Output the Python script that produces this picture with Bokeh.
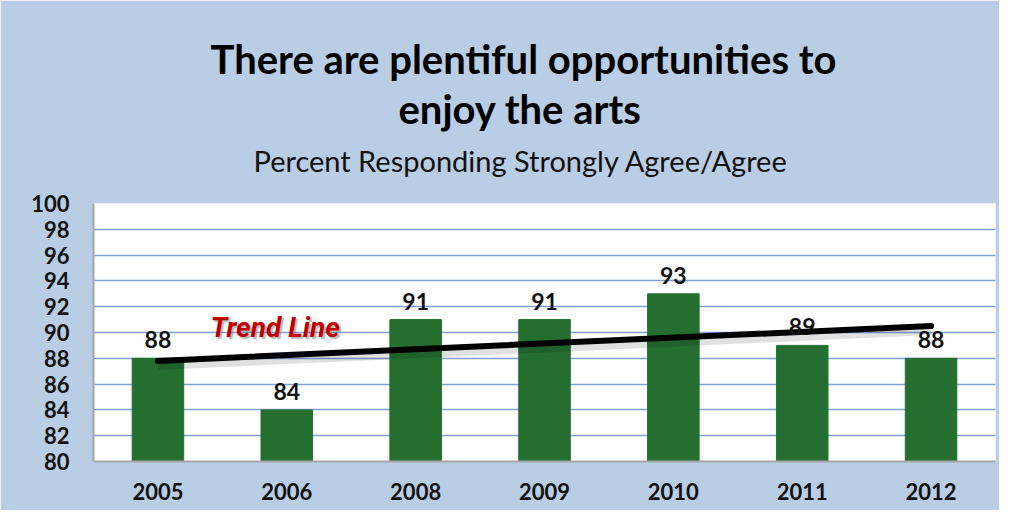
from bokeh.plotting import figure
from bokeh.models import ColumnDataSource, LabelSet, Label, FixedTicker, Title
from bokeh.core.properties import value
from bokeh.embed import file_html
from bokeh.resources import INLINE

years = ["2005", "2006", "2008", "2009", "2010", "2011", "2012"]
percent = [88, 84, 91, 91, 93, 89, 88]
y_ticks = [80, 82, 84, 86, 88, 90, 92, 94, 96, 98, 100]
trend_years = ["2005", "2012"]
trend_values = [87.8, 90.5]

title_1 = "There are plentiful opportunities to"
title_2 = "enjoy the  arts"
subtitle = "Percent Responding Strongly Agree/Agree"
trend_label = "Trend Line"

BG = "#B9CDE5"
GREEN = "#246F30"

p = figure(width=999, height=510, x_range=years, y_range=(80, 100),
           output_backend="svg", toolbar_location=None,
           min_border_left=93, min_border_right=4,
           min_border_top=203, min_border_bottom=49)
p.background_fill_color = "white"
p.border_fill_color = BG
p.outline_line_color = None

src = ColumnDataSource(dict(years=years, percent=percent,
                            labels=[str(v) for v in percent]))
p.vbar(x="years", top="percent", bottom=80, width=0.4, source=src,
       fill_color=GREEN, line_color=GREEN)

# trend line shadow + line
shadow_vals = [v - 0.35 for v in trend_values]
p.line(trend_years, shadow_vals, line_color="#000000", line_width=9,
       line_alpha=0.12)
p.line(trend_years, trend_values, line_color="black", line_width=6,
       line_cap="round")

p.add_layout(LabelSet(x="years", y="percent", text="labels", source=src,
                      y_offset=10, text_align="center",
                      text_baseline="alphabetic",
                      text_font=value("Lato"), text_font_style="bold",
                      text_font_size="23px", text_color="#111111"))

# grids / axes
p.xgrid.grid_line_color = None
p.ygrid.grid_line_color = "#7F9FD6"
p.ygrid.grid_line_width = 1.5
p.yaxis.ticker = FixedTicker(ticks=y_ticks)
for ax in (p.xaxis[0], p.yaxis[0]):
    ax.axis_line_color = "#A6A6A6"
    ax.axis_line_width = 2
    ax.major_tick_line_color = None
    ax.minor_tick_line_color = None
    ax.major_label_text_font = "Lato"
    ax.major_label_text_font_style = "bold"
    ax.major_label_text_color = "#111111"
p.yaxis.major_label_text_font_size = "22px"
p.yaxis.major_label_standoff = 18
p.xaxis.major_label_text_font_size = "22px"
p.xaxis.major_label_standoff = 15

# titles: closest to the frame first
p.add_layout(Title(text=subtitle, align="left", offset=160, standoff=52,
                   text_font="Lato", text_font_style="normal",
                   text_font_size="29px", text_color="#111111"), "above")
p.add_layout(Title(text=title_2, align="left", offset=305, standoff=-36,
                   text_font="Lato", text_font_style="bold",
                   text_font_size="40px", text_color="#000000"), "above")
p.add_layout(Title(text=title_1, align="left", offset=117, standoff=36,
                   text_font="Lato", text_font_style="bold",
                   text_font_size="40px", text_color="#000000"), "above")

# trend label with shadow (screen units relative to frame bottom-left)
p.add_layout(Label(x=119, y=132, x_units="screen", y_units="screen",
                   text=trend_label, text_align="left", text_baseline="alphabetic",
                   text_font="Roboto", text_font_style="bold italic",
                   text_font_size="28px", text_color="#7F7F7F", text_alpha=0.5))
p.add_layout(Label(x=117, y=134, x_units="screen", y_units="screen",
                   text=trend_label, text_align="left", text_baseline="alphabetic",
                   text_font="Roboto", text_font_style="bold italic",
                   text_font_size="28px", text_color="#C00000"))

open("out.html", "w").write(file_html(p, INLINE))
